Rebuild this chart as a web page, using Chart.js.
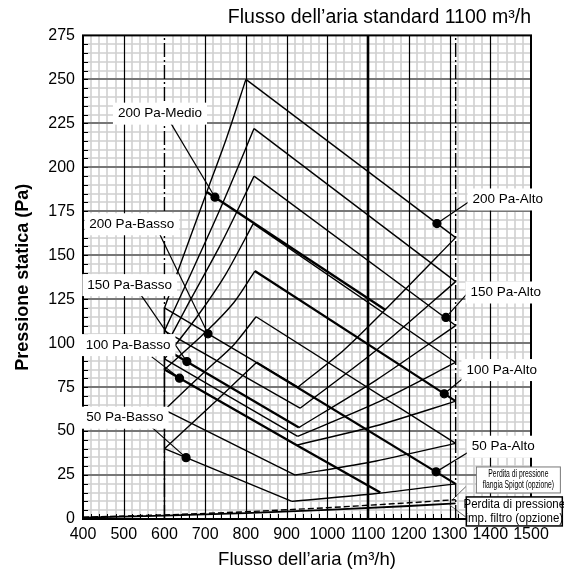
<!DOCTYPE html>
<html>
<head>
<meta charset="utf-8">
<script src="https://cdn.jsdelivr.net/npm/chart.js@4.4.0/dist/chart.umd.min.js"></script>
<style>
  html, body { margin: 0; padding: 0; background: #fff; }
</style>
</head>
<body>
<canvas id="fanChart" width="564" height="571"></canvas>
<script>
// airflow (m3/h) / static pressure (Pa)
// one operating area per ESP setting: left limit, Alto line, right limit, Basso line

const leftLimit = [
    [[600,120],[655,155],[704,186],[753,217],[800,250]],
    [[600,107],[660,137],[740,178],[820,222]],
    [[600,97],[660,123],[740,157],[820,195]],
    [[600,91],[680,115],[750,139],[818,168]],
    [[600,85],[700,106],[770,123],[822,141]],
    [[600,62],[700,84],[770,99],[825,115]],
    [[600,40],[726,67],[826,89]]
];
const altoLine = [
    [[800,250],[1315,160]],
    [[820,222],[1315,135]],
    [[820,195],[1315,110]],
    [[818,168],[1315,89]],
    [[822,141],[1315,67]],
    [[825,115],[1315,43]],
    [[826,89],[1315,20]]
];
const bassoLine = [
    [[600,120],[928,75]],
    [[600,107],[933,63]],
    [[600,97],[930,52]],
    [[600,91],[927,47]],
    [[600,85],[925,42],[1130,15]],
    [[600,62],[921,25]],
    [[600,40],[913,10]]
];
const rightLimit = [
    [[928,75],[1040,96],[1142,119],[1315,160]],
    [[933,63],[1120,96],[1315,135]],
    [[930,52],[1120,79],[1315,110]],
    [[927,47],[1120,66],[1315,89]],
    [[925,42],[1120,53],[1315,67]],
    [[921,25],[1120,33],[1315,43]],
    [[913,10],[1120,14.5],[1315,20]]
];
const medio200 = [[704,186],[1142,119]];
const heavyBasso = [2, 4];   // Basso lines drawn heavier (150 Pa, 100 Pa)
const heavyAlto = [4, 6];    // Alto lines drawn heavier (100 Pa, 50 Pa)

// optional accessories pressure loss
const spigotLoss = [[400,1],[600,2.3],[800,4.1],[1000,6.4],[1200,9.2],[1315,11]];
const filterLoss = [[400,0.8],[600,1.9],[800,3.3],[1000,5.2],[1200,7.4],[1315,8.9]];

// airflow limits and standard airflow
const minFlow = 600;
const maxFlow = 1315;
const stdFlow = 1100;

// callouts: text, text centre, leader start, marked point
const calloutText = ['200 Pa-Medio','200 Pa-Basso','150 Pa-Basso','100 Pa-Basso','50 Pa-Basso',
                     '200 Pa-Alto','150 Pa-Alto','100 Pa-Alto','50 Pa-Alto'];
const calloutAt = [[589,230.5],[519.7,167.6],[514.7,133],[510.6,98.9],[503,57.6],
                   [1443,181.7],[1438,128.8],[1428,84.7],[1432,41.1]];
const leaderFrom = [[614,225.7],[587.5,162.3],[540,128.2],[568.8,92.2],[563,53.4],
                    [1346.7,180.3],[1351,130.1],[1342.5,81.8],[1355,39.2]];
const markAt = [[724,183],[707,105.3],[655,89.5],[637,80.1],[653,34.9],
                [1269,168],[1291,114.6],[1287,71.2],[1267,26.8]];

// accessory boxes
const boxText = [['Perdita di pressione','flangia Spigot (opzione)'],
                 ['Perdita di pressione','imp. filtro (opzione)']];
const boxAt = [[1469,22.2],[1459,4.3]];
const boxLeaderFrom = [[1340,18.4],[1340,1.1]];
const boxLeaderTo = [[1306,10.8],[1300,8]];

const FONT = '"Liberation Sans", Arial, sans-serif';
const pts = a => a.map(p => ({ x: p[0], y: p[1] }));

function line(data, width, dash) {
    return {
        data: pts(data),
        borderColor: '#000',
        borderWidth: width || 1.4,
        borderDash: dash || [],
        pointRadius: 0,
        showLine: true,
        fill: false,
        tension: 0
    };
}

const datasets = [];

// limit lines
datasets.push(line([[minFlow,0],[minFlow,275]], 1.4, [14,3,2,3]));
datasets.push(line([[minFlow,0],[minFlow,120]], 1.4));
datasets.push(line([[maxFlow,0],[maxFlow,275]], 1.4, [14,3,2,3]));

leftLimit.forEach(c => { const d = line(c, 1.4); d.tension = 0.25; datasets.push(d); });
altoLine.forEach((c, i) => datasets.push(line(c, heavyAlto.includes(i) ? 2.2 : 1.4)));
bassoLine.forEach((c, i) => datasets.push(line(c, heavyBasso.includes(i) ? 2.3 : 1.4)));
rightLimit.forEach(c => { const d = line(c, 1.4); d.tension = 0.25; datasets.push(d); });
datasets.push(line(medio200, 2.4));

datasets.push(line(spigotLoss, 1.4, [6,3]));
datasets.push(line(filterLoss, 1.8));

// callout leaders with their marker
calloutText.forEach((t, i) => {
    const d = line([leaderFrom[i], markAt[i]], 1.2);
    d.pointRadius = [0, 4];
    d.pointBackgroundColor = '#000';
    d.pointBorderColor = '#000';
    d.clip = false;
    datasets.push(d);
});
boxText.forEach((t, i) => {
    const d = line([boxLeaderFrom[i], boxLeaderTo[i]], 1);
    d.borderColor = '#666';
    d.clip = false;
    datasets.push(d);
});

const decor = {
    id: 'decor',
    beforeDatasetsDraw(chart) {
        const { ctx, chartArea: a, scales: { x, y } } = chart;
        const px = v => Math.round(x.getPixelForValue(v));
        const py = v => Math.round(y.getPixelForValue(v));
        ctx.save();
        // minor grid
        ctx.strokeStyle = '#d0d0d0';
        ctx.lineWidth = 1.6;
        ctx.beginPath();
        for (let v = 5; v < 275; v += 5) {
            if (v % 25 === 0) continue;
            ctx.moveTo(a.left, py(v)); ctx.lineTo(a.right, py(v));
        }
        for (let v = 420; v < 1500; v += 20) {
            if (v % 100 === 0) continue;
            ctx.moveTo(px(v), a.top); ctx.lineTo(px(v), a.bottom);
        }
        ctx.stroke();
        // major horizontal grid
        ctx.strokeStyle = '#777';
        ctx.lineWidth = 2;
        ctx.beginPath();
        for (let v = 25; v < 275; v += 25) {
            ctx.moveTo(a.left, py(v)); ctx.lineTo(a.right, py(v));
        }
        ctx.stroke();
        // major vertical grid
        ctx.strokeStyle = '#000';
        ctx.lineWidth = 1.2;
        ctx.beginPath();
        for (let v = 500; v < 1500; v += 100) {
            if (v === minFlow || v === stdFlow) continue;
            ctx.moveTo(px(v) + 0.5, a.top); ctx.lineTo(px(v) + 0.5, a.bottom);
        }
        ctx.stroke();
        ctx.lineWidth = 2.6;
        ctx.beginPath();
        ctx.moveTo(px(stdFlow), a.top); ctx.lineTo(px(stdFlow), a.bottom);
        ctx.stroke();
        // inner ticks
        ctx.lineWidth = 1;
        ctx.beginPath();
        for (let v = 0; v <= 275; v += 5) {
            ctx.moveTo(a.left, py(v) + 0.5); ctx.lineTo(a.left + 5, py(v) + 0.5);
        }
        for (let v = 400; v <= 1500; v += 20) {
            ctx.moveTo(px(v) + 0.5, a.bottom); ctx.lineTo(px(v) + 0.5, a.bottom - 5);
        }
        ctx.stroke();
        ctx.lineWidth = 2;
        ctx.strokeRect(a.left, a.top, a.right - a.left, a.bottom - a.top);
        ctx.restore();
    },
    afterDatasetsDraw(chart) {
        const { ctx, scales: { x, y } } = chart;
        ctx.save();
        ctx.font = '13.5px ' + FONT;
        ctx.textAlign = 'center';
        ctx.textBaseline = 'middle';
        calloutText.forEach((t, i) => {
            const cx = x.getPixelForValue(calloutAt[i][0]);
            const cy = y.getPixelForValue(calloutAt[i][1]);
            const w = ctx.measureText(t).width + 10;
            ctx.fillStyle = '#fff';
            ctx.fillRect(cx - w / 2, cy - 11, w, 22);
            ctx.fillStyle = '#000';
            ctx.fillText(t, cx, cy);
        });
        // accessory boxes
        boxText.forEach((lines, i) => {
            const cx = x.getPixelForValue(boxAt[i][0]);
            const cy = y.getPixelForValue(boxAt[i][1]);
            const small = i === 0;
            const w = small ? 84 : 96;
            const h = small ? 26 : 29;
            ctx.fillStyle = '#fff';
            ctx.fillRect(cx - w / 2, cy - h / 2, w, h);
            ctx.strokeStyle = small ? '#777' : '#000';
            ctx.lineWidth = small ? 1 : 1.5;
            ctx.strokeRect(cx - w / 2, cy - h / 2, w, h);
            ctx.fillStyle = '#000';
            const lh = small ? 11 : 13.5;
            ctx.save();
            ctx.translate(cx, cy);
            if (small) {
                ctx.font = '10px ' + FONT;
                ctx.scale(0.68, 1);
            } else {
                ctx.font = '12.5px ' + FONT;
                ctx.scale(0.92, 1);
            }
            ctx.fillText(lines[0], 0, -lh / 2);
            ctx.fillText(lines[1], 0, lh / 2);
            ctx.restore();
        });
        ctx.restore();
    }
};

new Chart(document.getElementById('fanChart'), {
    type: 'line',
    data: { datasets },
    plugins: [decor],
    options: {
        responsive: false,
        animation: false,
        layout: { padding: { top: 0, right: 33, left: 0, bottom: 0 } },
        plugins: {
            legend: { display: false },
            tooltip: { enabled: false },
            title: {
                display: true,
                text: 'Flusso dell\u2019aria standard 1100 m\u00b3/h',
                align: 'end',
                color: '#000',
                font: { family: FONT, size: 19.5, weight: 'normal' },
                padding: { top: 6, bottom: 6 }
            }
        },
        scales: {
            x: {
                type: 'linear',
                min: 400, max: 1500,
                afterFit: s => { s.height = 52; },
                ticks: {
                    stepSize: 20, autoSkip: false, maxRotation: 0, padding: 6,
                    color: '#000',
                    font: { family: FONT, size: 16 },
                    callback: v => (Math.round(v) % 100 === 0 ? Math.round(v) : '')
                },
                grid: { display: false, drawTicks: false },
                border: { display: false },
                title: {
                    display: true,
                    text: 'Flusso dell\u2019aria (m\u00b3/h)',
                    color: '#000',
                    font: { family: FONT, size: 18.5 },
                    padding: { top: 0, bottom: 0 }
                }
            },
            y: {
                min: 0, max: 275,
                afterFit: s => { s.width = 83; },
                ticks: {
                    stepSize: 5, autoSkip: false, padding: 8,
                    color: '#000',
                    font: { family: FONT, size: 16 },
                    callback: v => (Math.round(v) % 25 === 0 ? Math.round(v) : '')
                },
                grid: { display: false, drawTicks: false },
                border: { display: false },
                title: {
                    display: true,
                    text: 'Pressione statica (Pa)',
                    color: '#000',
                    font: { family: FONT, size: 18, weight: 'bold' },
                    padding: { top: 12, bottom: 0 }
                }
            }
        }
    }
});
</script>
</body>
</html>
